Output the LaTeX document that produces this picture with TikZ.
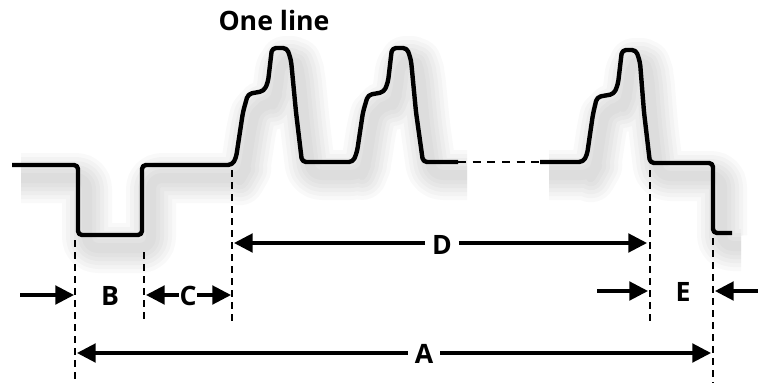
\documentclass[tikz,border=0pt]{standalone}
\usepackage{fontspec}
\setmainfont{Open Sans}
\usetikzlibrary{arrows.meta}

% signal trace, in pixel units of the picture
\newcommand{\tracefirst}{(12,165) -- (78,165) -- (78,235) -- (142,235) -- (142,165) -- (232,165)
  -- (236,158) -- (243,112) -- (248,94) -- (264,91) -- (268,82) -- (272,48) -- (287,48)
  -- (291,60) -- (296,112) -- (302,162) -- (353,162)
  -- (357,152) -- (363,112) -- (368,95) -- (384,92) -- (388,82) -- (392,48) -- (407,48)
  -- (411,60) -- (416,112) -- (423,162) -- (458,162)}
\newcommand{\tracesecond}{(540,162) -- (583,162)
  -- (587,155) -- (593,114) -- (597,97) -- (614,94) -- (618,84) -- (622,50) -- (636,50)
  -- (640,62) -- (644,112) -- (650,163) -- (713,163) -- (713,233) -- (732,233)}

\begin{document}
\begin{tikzpicture}[
  x=0.75pt, y=-0.75pt,
  signal/.style={line width=3.3pt, line join=round, rounded corners=3pt},
  shadeline/.style={black, opacity=0.022, line join=round, rounded corners=8pt, shift={(9,13)}},
  guide/.style={line width=1.8pt, dash pattern=on 5.5pt off 3.5pt},
  dim/.style={line width=2.3pt, -{Triangle[length=14pt, width=14pt]}},
  lab/.style={font=\fontsize{20}{24}\selectfont\bfseries, inner sep=3pt}
]
\useasboundingbox (0,0) rectangle (758,383);

% soft shadow under the trace
\foreach \w in {50,42,34,26,18,10} {
  \draw[shadeline, line width=\w*0.75pt] \tracefirst;
  \draw[shadeline, line width=\w*0.75pt] \tracesecond;
}

% the trace
\draw[signal] \tracefirst;
\draw[signal, line width=2pt, dash pattern=on 6pt off 5pt] (458,162) -- (540,162);
\draw[signal] \tracesecond;

% labels
\node[lab] (title) at (274,20) {One line};
\node[lab] (labB) at (110,296) {B};
\node[lab, inner sep=0.5pt] (labC) at (188,296) {C};
\node[lab, inner sep=5pt] (labD) at (442,245) {D};
\node[lab] (labE) at (683,292) {E};
\node[lab, inner sep=5pt] (labA) at (424,354) {A};

% guide lines
\coordinate (gB1) at (75,240);  \coordinate (gB2) at (75,383);
\coordinate (gC1) at (144,252); \coordinate (gC2) at (144,322);
\coordinate (gD1) at (232,170); \coordinate (gD2) at (232,322);
\coordinate (gE1) at (650,170); \coordinate (gE2) at (650,325);
\coordinate (gA1) at (713,238); \coordinate (gA2) at (713,383);
\foreach \g in {B,C,D,E,A}
  \draw[guide] (g\g1) -- (g\g2);

% dimension arrows
\coordinate (bL) at (20,295);  \coordinate (bR) at (74,295);
\coordinate (cL) at (146,295); \coordinate (cR) at (231,295);
\coordinate (dL) at (234,243); \coordinate (dR) at (647,243);
\coordinate (eL) at (597,291); \coordinate (eR) at (648,291);
\coordinate (fL) at (758,291); \coordinate (fR) at (715,291);
\coordinate (aL) at (77,353);  \coordinate (aR) at (711,353);

\draw[dim] (bL) -- (bR);
\draw[dim] (labC.west |- cL) -- (cL);
\draw[dim] (labC.east |- cR) -- (cR);
\draw[dim] (labD.west |- dL) -- (dL);
\draw[dim] (labD.east |- dR) -- (dR);
\draw[dim] (eL) -- (eR);
\draw[dim] (fL) -- (fR);
\draw[dim] (labA.west |- aL) -- (aL);
\draw[dim] (labA.east |- aR) -- (aR);
\end{tikzpicture}
\end{document}
